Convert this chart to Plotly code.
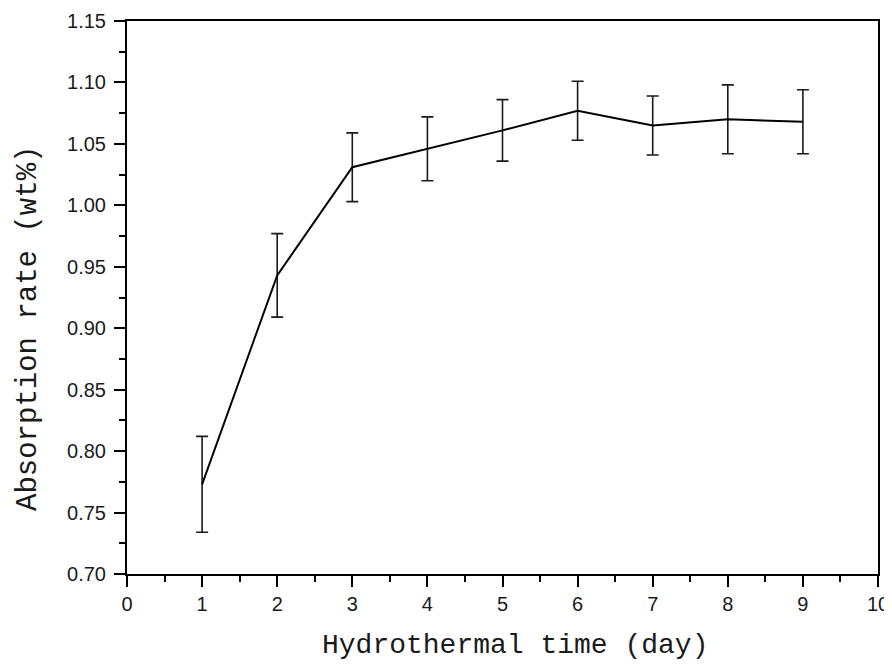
import plotly.graph_objects as go

days = [1, 2, 3, 4, 5, 6, 7, 8, 9]
absorption = [0.773, 0.943, 1.031, 1.046, 1.061, 1.077, 1.065, 1.070, 1.068]
error = [0.039, 0.034, 0.028, 0.026, 0.025, 0.024, 0.024, 0.028, 0.026]

x_ticks = list(range(0, 11))
y_ticks = [0.70, 0.75, 0.80, 0.85, 0.90, 0.95, 1.00, 1.05, 1.10, 1.15]
y_ticklabels = [f"{v:.2f}" for v in y_ticks]

x_title = "Hydrothermal time (day)"
y_title = "Absorption rate (wt%)"

fig = go.Figure()
fig.add_trace(go.Scatter(
    x=days, y=absorption, mode="lines",
    line=dict(color="black", width=2),
    error_y=dict(type="data", array=error, visible=True,
                 color="#1a1a1a", thickness=1.6, width=6),
    showlegend=False,
))

axis_common = dict(
    showline=True, linecolor="black", linewidth=2, mirror=True,
    ticks="outside", ticklen=11, tickwidth=2, tickcolor="black",
    showgrid=False, zeroline=False, automargin=False,
    ticklabeloverflow="allow",
    tickfont=dict(family="Liberation Sans, Arial", size=20, color="#1a1a1a"),
)

fig.update_xaxes(
    range=[0, 10], tickvals=x_ticks, ticktext=[str(v) for v in x_ticks],
    minor=dict(ticks="outside", ticklen=6, tickwidth=2, tickcolor="black", dtick=0.5, tick0=0),
    **axis_common,
)
fig.update_yaxes(
    range=[0.70, 1.15], tickvals=y_ticks, ticktext=y_ticklabels,
    minor=dict(ticks="outside", ticklen=6, tickwidth=2, tickcolor="black", dtick=0.025, tick0=0.70),
    ticklabelstandoff=4,
    **axis_common,
)

title_font = dict(family="Liberation Mono, Courier New", size=28, color="#1a1a1a")
fig.add_annotation(text=x_title, xref="paper", yref="paper", x=0.517, y=0,
                   xanchor="center", yanchor="middle", yshift=-71,
                   showarrow=False, font=title_font)
fig.add_annotation(text=y_title, xref="paper", yref="paper", x=0, y=0.443,
                   xanchor="center", yanchor="middle", xshift=-99, textangle=-90,
                   showarrow=False, font=dict(title_font, size=29))

fig.update_layout(
    width=884, height=656,
    margin=dict(l=119, r=14, t=13, b=90),
    plot_bgcolor="white", paper_bgcolor="white",
)

fig.write_html("out.html")
